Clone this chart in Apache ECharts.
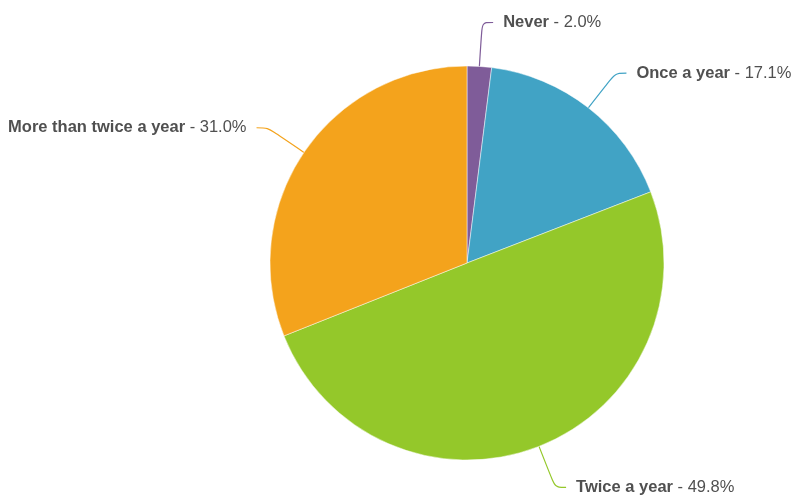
<!DOCTYPE html>
<html>
<head>
<meta charset="utf-8">
<style>
  html, body { margin: 0; padding: 0; background: #fff; }
  #chart { width: 794px; height: 498px; }
</style>
<script src="https://cdn.jsdelivr.net/npm/echarts@6/dist/echarts.min.js"></script>
</head>
<body>
<div id="chart"></div>
<script>
// Survey answers: how often the service is done
const categories = ['Never', 'Once a year', 'Twice a year', 'More than twice a year'];
const shares = [2.0, 17.1, 49.8, 31.0];
const sliceColors = ['#7f5c99', '#41a3c5', '#94c82a', '#f4a31c'];

const chart = echarts.init(document.getElementById('chart'), null, { renderer: 'canvas' });

const labelFont = 'Liberation Sans, Arial, sans-serif';

chart.setOption({
  animation: false,
  backgroundColor: '#ffffff',
  series: [{
    type: 'pie',
    center: [467, 263],
    radius: 197,
    startAngle: 90,
    clockwise: true,
    avoidLabelOverlap: false,
    data: categories.map((name, i) => ({
      name,
      value: shares[i],
      itemStyle: { color: sliceColors[i] },
      labelLine: { lineStyle: { color: sliceColors[i] } }
    })),
    itemStyle: { borderColor: 'rgba(255,255,255,0.6)', borderWidth: 0.8 },
    label: {
      show: true,
      position: 'outside',
      distanceToLabelLine: 10,
      formatter: p => '{b|' + p.name + '}{v| - ' + p.value.toFixed(1) + '%}',
      rich: {
        b: { fontFamily: labelFont, fontSize: 16.5, fontWeight: 'bold', color: '#505050' },
        v: { fontFamily: labelFont, fontSize: 16.5, color: '#505050' }
      }
    },
    labelLine: {
      show: true,
      length: 44,
      length2: 11,
      smooth: 0.3,
      lineStyle: { width: 1.2 }
    },
    emphasis: { disabled: true }
  }]
});
</script>
</body>
</html>
